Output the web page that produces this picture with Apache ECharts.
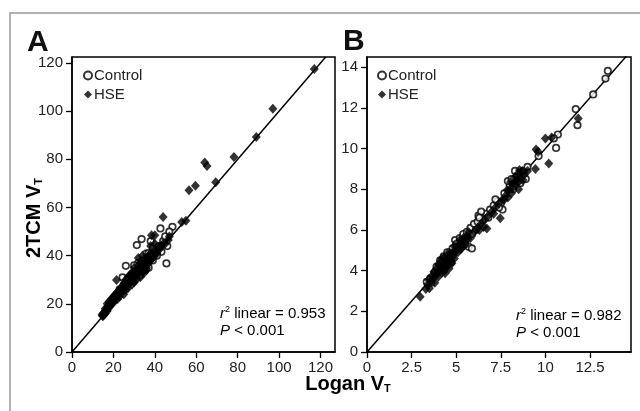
<!DOCTYPE html>
<html><head><meta charset="utf-8">
<script src="https://cdn.jsdelivr.net/npm/echarts@6/dist/echarts.min.js"></script>
<style>html,body{margin:0;padding:0;background:#fff}#c{width:640px;height:411px}</style>
</head><body><div id="c"></div>
<script>
// ---- Panel A data (Logan VT, 2TCM VT) ----
const hseA = [[117,117.5],[97,101],[89,89.3],[78.2,81],[64.1,78.7],[65.2,77.2],[69.4,70.5],[59.6,69],[56.5,67.2],
[53,54],[55,54.5],[44,56.1],[46.5,46.5],[47,48],[38.4,48.5],[40,48.5],[45,45],[42,43],[40,42],[38,41],[36,39],[37,40],
[35,38],[33,37],[34,36.5],[32,36],[30,35],[31,34],[29,33],[28,32],[30,32],[27,31],[26,30],[21.5,29.9],[25,28],[24,27],
[23,26],[22,25],[24,25],[21,24],[22,23.5],[20,23],[19,22],[20,21],[18,21],[19,20],[17,20],[18,19],[16,18],[17,18],
[16,17],[15,16],[15.5,15.5],[15,15],[16,16],[14.5,15.5],[17,17],[18,18.5],[20,20.5],[21,22],[22,22],[23,23],[25,24],
[26,26],[27,28],[28,29],[29,30],[31,31.5],[32,33],[33,34],[34,33],[35,35],[36,35],[37,37],[38,38],[39,39],[41,41],
[43,44],[44,45],[25,25.5],[27,26.5],[29,28],[30,29],[31,30],[33,31],[35,33],[36,34],[34,40],[32,39],[38,44],[40,45],
[14.8,14.9],[15.2,15.8],[15.8,16.5],[16.3,16.9],[16.8,17.4],[17.4,18.3],[17.8,19.2],[18.4,19.6],[18.8,20.4],[19.4,21],
[19.8,21.8],[20.4,22.3],[21.4,23.1],[22.5,24.3],[23.4,24.8],[24.2,26.2],[25.4,27.1],[26.3,28.2],[27.4,29.5],[28.4,30.4],
[29.4,31.6],[30.4,33.1],[31.4,32.4],[32.4,34.6],[33.4,35.7],[34.4,35.2],[35.4,37.1],[36.4,37.8],[37.4,38.6],[39.4,41.2],
[40.4,40.5],[42.4,42.8]];
const controlA = [[48.5,52],[42.7,51.3],[33.6,46.9],[31.3,44.4],[38,46],[45.6,36.8],[43.2,41.6],[36,41],[26,35.8],
[24.4,31],[35,34],[37,35],[39,38],[41,40],[30,33],[28,31],[33,35],[32,37],[34,38],[36,37],[38,39],[40,42],[42,44],
[44,46],[29,32],[27,30],[25,28],[23,26],[22,24],[20,22],[18,20],[17,18],[19,21],[21,23],[30,36],[26,29],[31,33],
[35,36.5],[37,41],[39,43],[45,48],[47,50],[46,44],[33,32]];
// ---- Panel B data ----
const hseB = [[2.98,2.72],[3.3,3.1],[3.5,3.13],[3.4,3.3],[3.6,3.5],[3.7,3.6],[3.8,3.4],[3.9,3.8],[4.0,3.7],[4.1,4.0],
[4.2,3.9],[4.38,3.87],[4.3,4.2],[4.4,4.5],[4.5,4.3],[4.6,4.7],[4.7,4.5],[4.76,4.36],[4.8,4.9],[4.9,4.6],[5.0,5.0],
[5.1,4.9],[5.2,5.3],[5.3,5.1],[5.4,5.6],[5.5,5.4],[5.6,5.7],[5.8,5.6],[6.0,5.9],[6.2,6.1],[6.54,6.15],[6.72,6.07],
[6.4,6.3],[6.6,6.5],[6.8,6.7],[7.0,6.9],[7.2,7.1],[7.47,6.57],[7.4,7.3],[7.6,7.5],[7.8,7.7],[7.9,7.6],[8.0,8.0],
[8.2,8.3],[8.3,8.6],[8.4,8.4],[8.5,8.8],[8.6,8.5],[8.7,8.9],[8.8,8.7],[9.0,8.9],[9.44,8.99],[9.48,9.95],[9.59,9.84],
[10.19,9.27],[10.0,10.5],[10.35,10.54],[11.84,11.48],[4.2,4.6],[4.5,4.8],[3.9,4.1],[5.2,5.5],[4.0,4.3],[4.6,4.1],
[5.7,5.9],[6.3,6.0],[8.1,7.8],[7.1,6.8],[8.5,8.0],[4.9,5.2],
[3.45,3.55],[3.65,3.75],[3.75,3.95],[3.95,3.95],[4.05,4.25],[4.15,4.45],[4.25,4.05],[4.35,4.65],[4.45,4.15],
[4.55,4.55],[4.65,4.85],[4.85,4.75],[4.95,4.95],[5.05,5.15],[5.25,5.05],[5.35,5.45],[5.45,5.25],[5.65,5.55],
[7.7,7.5],[7.85,7.95],[8.05,8.35],[8.15,8.05],[8.35,8.25],[8.45,8.55],[8.55,8.95],[8.75,8.45]];
const controlB = [[13.5,13.82],[13.37,13.44],[12.68,12.66],[11.7,11.94],[11.8,11.15],[10.7,10.69],[10.47,10.5],
[10.6,10.03],[9.62,9.63],[6.25,6.7],[3.35,3.45],[3.54,3.62],[5.7,5.17],[5.88,5.09],[4.94,5.5],[3.8,3.9],[4.0,4.1],
[4.2,4.4],[4.4,4.6],[4.6,4.9],[4.8,5.1],[5.0,5.3],[5.2,5.6],[5.4,5.8],[5.6,5.9],[5.8,6.1],[6.0,6.3],[6.2,6.4],
[6.5,6.5],[6.7,6.8],[6.9,7.0],[7.1,7.2],[7.3,7.4],[7.5,7.3],[7.7,7.8],[8.0,8.2],[8.2,8.0],[8.4,8.7],[8.6,8.3],
[8.8,8.9],[9.0,9.1],[8.9,8.5],[7.9,8.4],[5.5,5.3],[6.1,6.0],[4.3,4.0],[3.6,3.4],[6.4,6.9],[5.1,5.2],[4.7,4.4],
[7.6,7.0],[8.3,8.9],[3.9,4.2],[4.1,4.5],[4.3,4.7],[4.5,4.9],[5.3,5.4],[5.9,5.8],[6.3,6.6],[6.8,6.6],[7.2,7.5],
[7.4,7.1],[8.1,8.5],[8.5,8.4]];
// identity lines
const identityA = [[0,0],[122.5,122.5]];
const identityB = [[0,0],[14.6,14.6]];
// ticks
const xTicksA = [0,20,40,60,80,100,120];
const yTicksA = [0,20,40,60,80,100,120];
const xTicksB = [0,2.5,5,7.5,10,12.5];
const yTicksB = [0,2,4,6,8,10,12,14];
const r2 = ['0.953','0.982'];

const FF = '"Liberation Sans", Arial, sans-serif';
const chart = echarts.init(document.getElementById('c'), null, {renderer:'canvas'});

function xAxis(gi, max, ticks, interval){
  return {type:'value', gridIndex:gi, min:0, max:max, interval:interval,
    axisLine:{show:true, onZero:false, lineStyle:{color:'#000', width:1.5}},
    axisTick:{show:true, length:6, lineStyle:{color:'#000', width:1.3}, customValues:ticks},
    axisLabel:{fontSize:15, fontFamily:FF, color:'#222', margin:8, customValues:ticks},
    splitLine:{show:false}};
}
function yAxis(gi, max, ticks, interval){
  return {type:'value', gridIndex:gi, min:0, max:max, interval:interval,
    axisLine:{show:true, onZero:false, lineStyle:{color:'#000', width:1.5}},
    axisTick:{show:true, length:6, lineStyle:{color:'#000', width:1.3}, customValues:ticks},
    axisLabel:{fontSize:15, fontFamily:FF, color:'#222', margin:9, customValues:ticks},
    splitLine:{show:false}};
}
function hse(data, i){
  return {type:'scatter', name:'HSE', xAxisIndex:i, yAxisIndex:i, data:data, symbol:'diamond',
    symbolSize:[9,10], itemStyle:{color:'#000'}, z:4};
}
function ctrl(data, i){
  return {type:'scatter', name:'Control', xAxisIndex:i, yAxisIndex:i, data:data, symbol:'circle',
    symbolSize:6.5, itemStyle:{color:'#fff', borderColor:'#000', borderWidth:1.7}, z:3};
}
function ident(data, i){
  return {type:'line', xAxisIndex:i, yAxisIndex:i, data:data, symbol:'none', silent:true,
    lineStyle:{color:'#000', width:1.5}, z:2};
}
function legend(left){
  return {left:left, top:63, orient:'vertical', itemWidth:8, itemHeight:8, itemGap:4,
    data:['Control','HSE'], selectedMode:false,
    textStyle:{fontSize:15, fontFamily:FF, color:'#222', padding:[0,0,0,-3]}};
}
const italicRich = {
  i:{fontStyle:'italic', fontSize:15, fontFamily:FF, color:'#222'},
  s:{fontSize:9, fontFamily:FF, color:'#222', padding:[0,0,8,0]},
  n:{fontSize:15, fontFamily:FF, color:'#222'}
};
function stat(x, y, val){
  return [
    {type:'text', left:x, top:y, style:{text:'{i|r}{s|2}{n| linear = '+val+'}', rich:italicRich}},
    {type:'text', left:x, top:y+18, style:{text:'{i|P}{n| < 0.001}', rich:italicRich}}
  ];
}

chart.setOption({
  animation:false,
  backgroundColor:'#fff',
  grid:[
    {left:72, top:57, width:263, height:295, show:true, borderColor:'#000', borderWidth:1.5, outerBoundsMode:'none'},
    {left:367, top:57, width:264, height:295, show:true, borderColor:'#000', borderWidth:1.5, outerBoundsMode:'none'}
  ],
  xAxis:[xAxis(0,127,xTicksA,20), xAxis(1,14.8,xTicksB,2.5)],
  yAxis:[yAxis(0,122.5,yTicksA,20), yAxis(1,14.5,yTicksB,2)],
  legend:[legend(78), legend(372)],
  series:[ident(identityA,0), ctrl(controlA,0), hse(hseA,0), ident(identityB,1), ctrl(controlB,1), hse(hseB,1)],
  graphic:[
    {type:'rect', shape:{x:10, y:13, width:700, height:500}, style:{fill:'none', stroke:'#9a9a9a', lineWidth:1.5}, silent:true},
    {type:'text', left:27, top:28, style:{text:'A', fontSize:30, fontWeight:'bold', fontFamily:FF, fill:'#111'}},
    {type:'text', left:343, top:27, style:{text:'B', fontSize:30, fontWeight:'bold', fontFamily:FF, fill:'#111'}},
    {type:'text', x:34, y:218, rotation:Math.PI/2,
      style:{text:'{a|2TCM V}{b|T}', align:'center', verticalAlign:'middle',
        rich:{a:{fontSize:20, fontWeight:'bold', fontFamily:FF, color:'#111'},
              b:{fontSize:11, fontWeight:'bold', fontFamily:FF, color:'#111', padding:[10,0,0,0]}}}},
    {type:'text', x:348, y:384,
      style:{text:'{a|Logan V}{b|T}', align:'center', verticalAlign:'middle',
        rich:{a:{fontSize:20, fontWeight:'bold', fontFamily:FF, color:'#111'},
              b:{fontSize:11, fontWeight:'bold', fontFamily:FF, color:'#111', padding:[10,0,0,0]}}}},
    ...stat(220, 305, r2[0]),
    ...stat(516, 307, r2[1])
  ]
});
</script></body></html>
